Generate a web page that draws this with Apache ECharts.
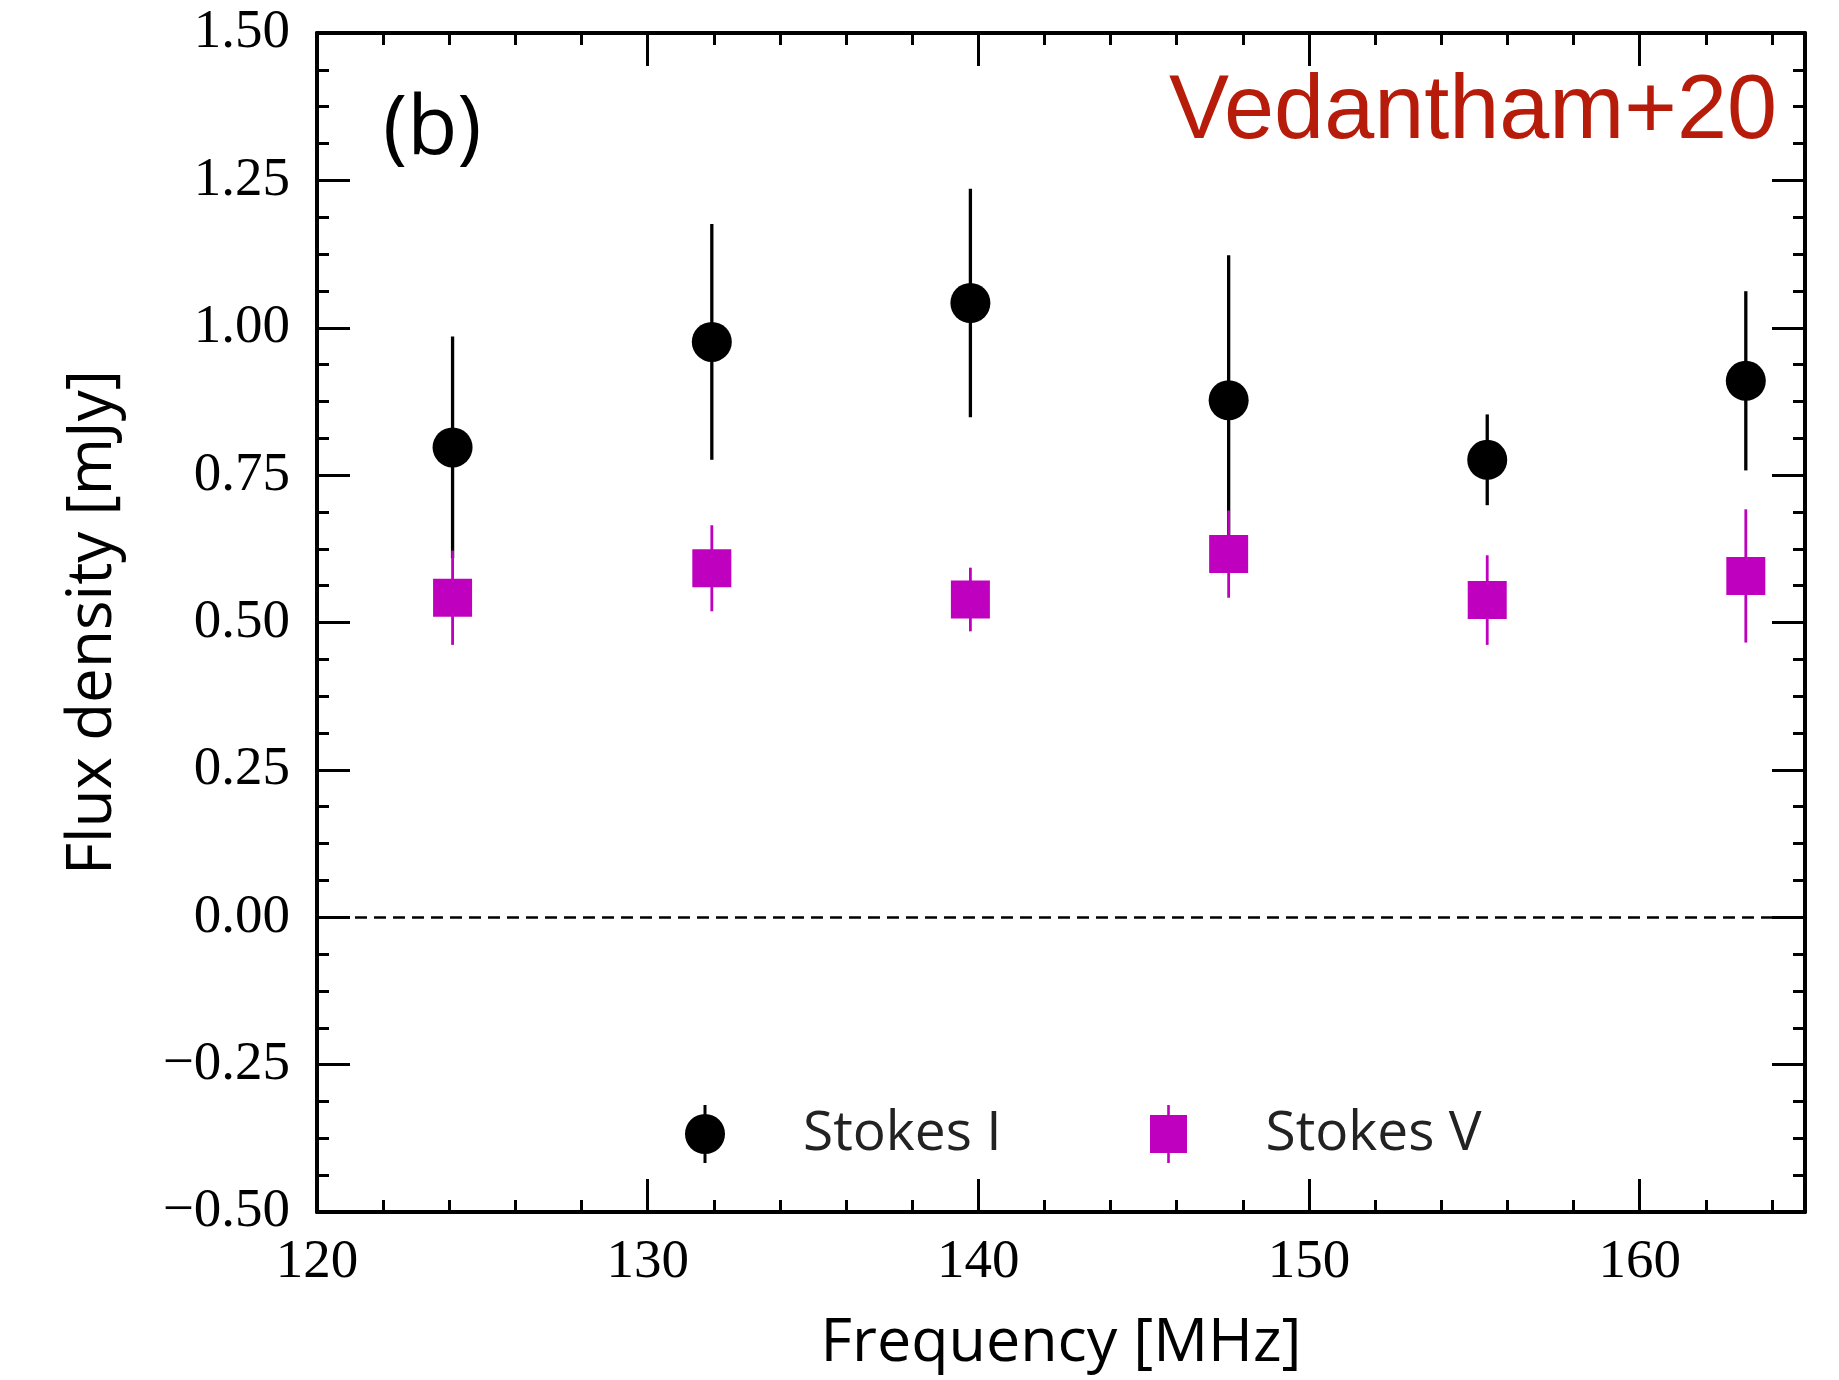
<!DOCTYPE html>
<html>
<head>
<meta charset="utf-8">
<script src="https://cdn.jsdelivr.net/npm/echarts@6/dist/echarts.min.js"></script>
<style>
html,body{margin:0;padding:0;background:#fff;}
#chart{width:1839px;height:1380px;}
</style>
</head>
<body>
<div id="chart"></div>
<script>
// ---- data ----
const frequencies = [124.1, 131.94, 139.76, 147.57, 155.39, 163.21];
const stokesI     = [0.797, 0.976, 1.042, 0.877, 0.776, 0.910];
const stokesIErr  = [0.188, 0.200, 0.194, 0.246, 0.077, 0.152];
const stokesV     = [0.542, 0.592, 0.539, 0.616, 0.538, 0.579];
const stokesVErr  = [0.080, 0.073, 0.054, 0.074, 0.076, 0.113];
const xTicks = [120, 130, 140, 150, 160];
const yTicks = [-0.5, -0.25, 0, 0.25, 0.5, 0.75, 1.0, 1.25, 1.5];

const BLACK = '#000000';
const MAGENTA = '#bf00bf';

const ptsI = frequencies.map((f, i) => [f, stokesI[i]]);
const ptsV = frequencies.map((f, i) => [f, stokesV[i]]);
const errI = frequencies.map((f, i) => [f, stokesI[i] - stokesIErr[i], stokesI[i] + stokesIErr[i]]);
const errV = frequencies.map((f, i) => [f, stokesV[i] - stokesVErr[i], stokesV[i] + stokesVErr[i]]);

function errRender(color, width) {
  return function (params, api) {
    const x = api.value(0), lo = api.value(1), hi = api.value(2);
    const p1 = api.coord([x, lo]);
    const p2 = api.coord([x, hi]);
    return {
      type: 'line',
      shape: { x1: p1[0], y1: p1[1], x2: p2[0], y2: p2[1] },
      style: { stroke: color, lineWidth: width }
    };
  };
}

const serif = '"Liberation Serif", "DejaVu Serif", serif';
const sans = '"Open Sans", "Noto Sans", sans-serif';

const axisLineStyle = { color: BLACK, width: 4 };
const tickBase = { show: true, inside: true, length: 33, lineStyle: { color: BLACK, width: 3 } };
const minorBase = { show: true, length: 12, lineStyle: { color: BLACK, width: 3 } };

const fmtY = v => (v < 0 ? '\u2212' + Math.abs(v).toFixed(2) : v.toFixed(2));

const chart = echarts.init(document.getElementById('chart'), null, { renderer: 'canvas' });
chart.setOption({
  animation: false,
  backgroundColor: '#ffffff',
  grid: { left: 317, right: 34, top: 33, bottom: 168 },
  xAxis: [
    {
      type: 'value', position: 'bottom',
      min: xTicks[0], max: 165, interval: 10,
      axisLine: { show: true, onZero: false, lineStyle: axisLineStyle },
      axisTick: tickBase,
      minorTick: Object.assign({ splitNumber: 5 }, minorBase),
      splitLine: { show: false },
      axisLabel: { show: true, margin: 23, color: BLACK, fontFamily: serif, fontSize: 55,
                   showMaxLabel: false, formatter: v => xTicks.includes(v) ? String(v) : '' },
      name: 'Frequency [MHz]', nameLocation: 'middle', nameGap: 101,
      nameTextStyle: { color: BLACK, fontFamily: sans, fontSize: 61 }
    },
    {
      type: 'value', position: 'top',
      min: xTicks[0], max: 165, interval: 10,
      axisLine: { show: true, onZero: false, lineStyle: axisLineStyle },
      axisTick: tickBase,
      minorTick: Object.assign({ splitNumber: 5 }, minorBase),
      splitLine: { show: false },
      axisLabel: { show: false }
    }
  ],
  yAxis: [
    {
      type: 'value', position: 'left',
      min: yTicks[0], max: yTicks[yTicks.length - 1], interval: 0.25,
      axisLine: { show: true, onZero: false, lineStyle: axisLineStyle },
      axisTick: tickBase,
      minorTick: Object.assign({ splitNumber: 4 }, minorBase),
      splitLine: { show: false },
      axisLabel: { show: true, margin: 27, color: BLACK, fontFamily: serif, fontSize: 55,
                   padding: [10, 0, 0, 0], formatter: fmtY },
      name: 'Flux density [mJy]', nameLocation: 'middle', nameGap: 193, nameRotate: 90,
      nameTextStyle: { color: BLACK, fontFamily: sans, fontSize: 62 }
    },
    {
      type: 'value', position: 'right',
      min: yTicks[0], max: yTicks[yTicks.length - 1], interval: 0.25,
      axisLine: { show: true, onZero: false, lineStyle: axisLineStyle },
      axisTick: tickBase,
      minorTick: Object.assign({ splitNumber: 4 }, minorBase),
      splitLine: { show: false },
      axisLabel: { show: false }
    }
  ],
  legend: [
    {
      left: 680, top: 1100, itemWidth: 40, itemHeight: 58,
      data: [{ name: 'Stokes I', icon: 'path://M0,29 A20,20 0 1,1 40,29 A20,20 0 1,1 0,29 Z M18.5,0 L21.5,0 L21.5,58 L18.5,58 Z' }],
      textStyle: { color: '#222', fontFamily: sans, fontSize: 55, padding: [0, 0, 0, 73] },
      selectedMode: false
    },
    {
      left: 1145, top: 1100, itemWidth: 40, itemHeight: 58,
      data: [{ name: 'Stokes V', icon: 'path://M1.5,10 L38.5,10 L38.5,48 L1.5,48 Z M18.7,0 L21.3,0 L21.3,58 L18.7,58 Z' }],
      textStyle: { color: '#222', fontFamily: sans, fontSize: 55, padding: [0, 0, 0, 72] },
      selectedMode: false
    }
  ],
  graphic: [
    {
      type: 'text', left: 383, top: 90, z: 10,
      style: { text: '(b)', fill: BLACK, font: '82px "Open Sans", sans-serif' }
    },
    {
      type: 'text', right: 62, top: 68, z: 10,
      style: { text: 'Vedantham+20', fill: '#b71c0a', font: '90px "Liberation Sans", Arial, sans-serif' }
    }
  ],
  series: [
    {
      name: 'zero', type: 'line', data: [], xAxisIndex: 0, yAxisIndex: 0, z: 1,
      markLine: {
        silent: true, symbol: 'none', label: { show: false },
        lineStyle: { color: BLACK, width: 2.5, type: [12, 7] },
        data: [{ yAxis: 0 }]
      }
    },
    {
      name: 'Stokes I err', type: 'custom', xAxisIndex: 0, yAxisIndex: 0, z: 2,
      renderItem: errRender(BLACK, 3.3), data: errI, encode: { x: 0, y: [1, 2] }
    },
    {
      name: 'Stokes I', type: 'scatter', xAxisIndex: 0, yAxisIndex: 0, z: 3,
      symbol: 'circle', symbolSize: 40, itemStyle: { color: BLACK, opacity: 1 }, data: ptsI
    },
    {
      name: 'Stokes V err', type: 'custom', xAxisIndex: 0, yAxisIndex: 0, z: 4,
      renderItem: errRender(MAGENTA, 2.8), data: errV, encode: { x: 0, y: [1, 2] }
    },
    {
      name: 'Stokes V', type: 'scatter', xAxisIndex: 0, yAxisIndex: 0, z: 5,
      symbol: 'rect', symbolSize: [39, 38], itemStyle: { color: MAGENTA, opacity: 1 }, data: ptsV
    }
  ]
});
</script>
</body>
</html>
